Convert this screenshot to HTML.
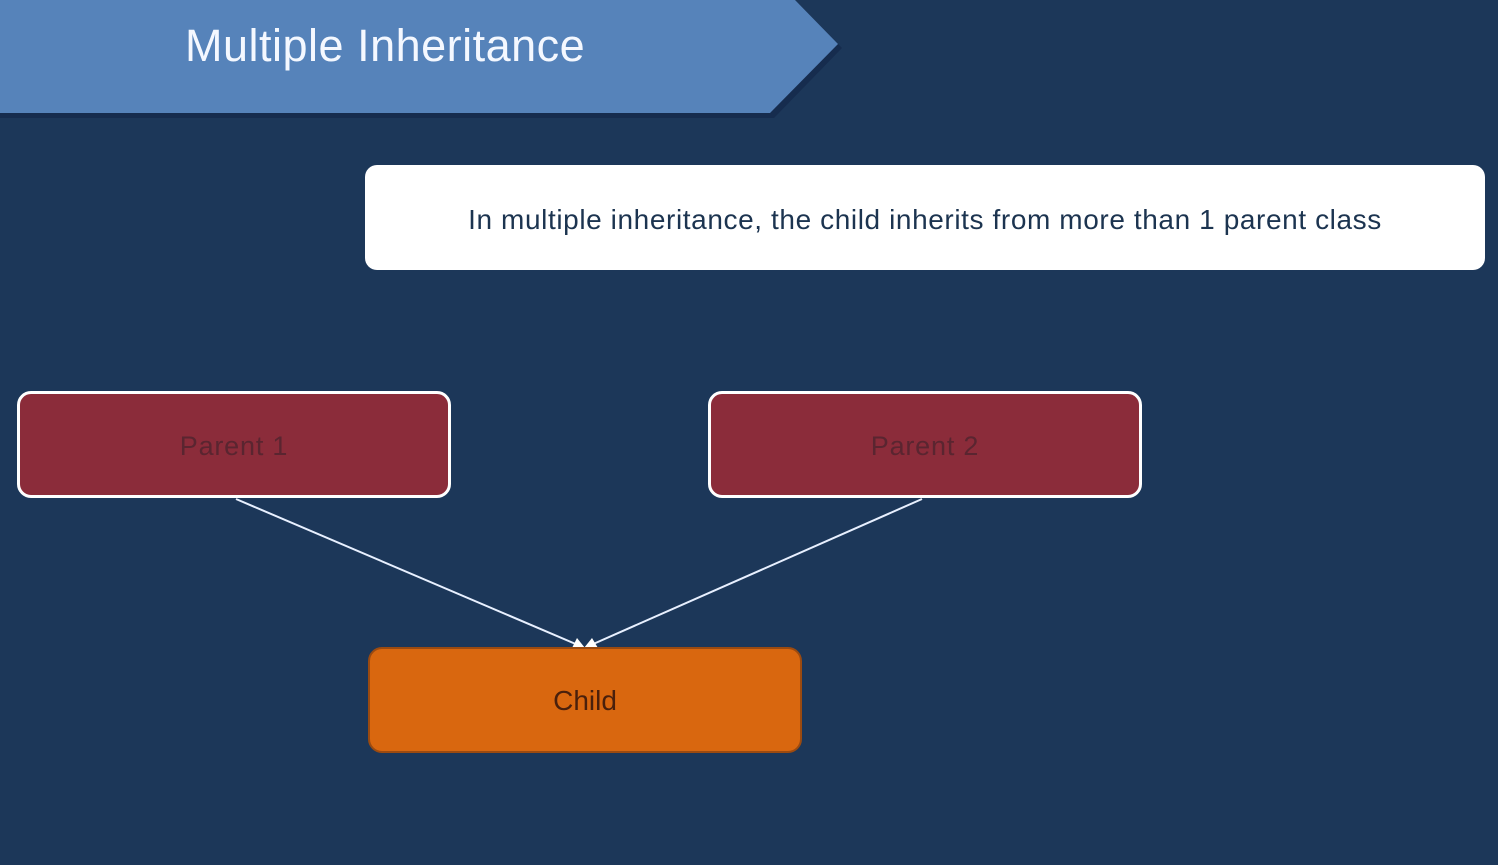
<!DOCTYPE html>
<html><head><style>
body{margin:0;width:1498px;height:865px;background:#1c3759;position:relative;overflow:hidden;font-family:"Liberation Sans",sans-serif}
.box{position:absolute;box-sizing:border-box;display:flex;align-items:center;justify-content:center;font-size:26px}
</style></head><body>
<svg width="1498" height="865" style="position:absolute;left:0;top:0">
<polygon points="0,4 799,4 842,48 774,118 0,118" fill="#14284a" opacity="0.7"/>
<polygon points="0,0 795,0 838,44 770,113 0,113" fill="#5683ba"/>
<line x1="236" y1="499" x2="578" y2="645" stroke="#e8f0ff" stroke-width="2"/>
<line x1="922" y1="499" x2="591" y2="645" stroke="#e8f0ff" stroke-width="2"/>
<polygon points="572,648 585,648 577,638" fill="#fff"/>
<polygon points="584,648 598,648 592,638" fill="#fff"/>
</svg>
<div style="position:absolute;left:185px;top:20px;font-size:45px;letter-spacing:0.5px;color:#f4f8ff">Multiple Inheritance</div>
<div class="box" style="left:365px;top:165px;width:1120px;height:105px;background:#fff;border-radius:12px;color:#1c3450;font-size:28px;letter-spacing:0.6px;padding-top:4px">In multiple inheritance, the child inherits from more than 1 parent class</div>
<div class="box" style="left:17px;top:391px;width:434px;height:107px;background:#8b2c3a;border:3px solid #fff;border-radius:14px;color:#5a2530;font-size:27px;letter-spacing:0.8px;padding-top:4px">Parent 1</div>
<div class="box" style="left:708px;top:391px;width:434px;height:107px;background:#8b2c3a;border:3px solid #fff;border-radius:14px;color:#5a2530;font-size:27px;letter-spacing:0.8px;padding-top:4px">Parent 2</div>
<div class="box" style="left:368px;top:647px;width:434px;height:106px;background:#d9670f;border:2px solid #9b4a10;border-radius:14px;color:#4a200c;font-size:28px;padding-top:2px">Child</div>
</body></html>
